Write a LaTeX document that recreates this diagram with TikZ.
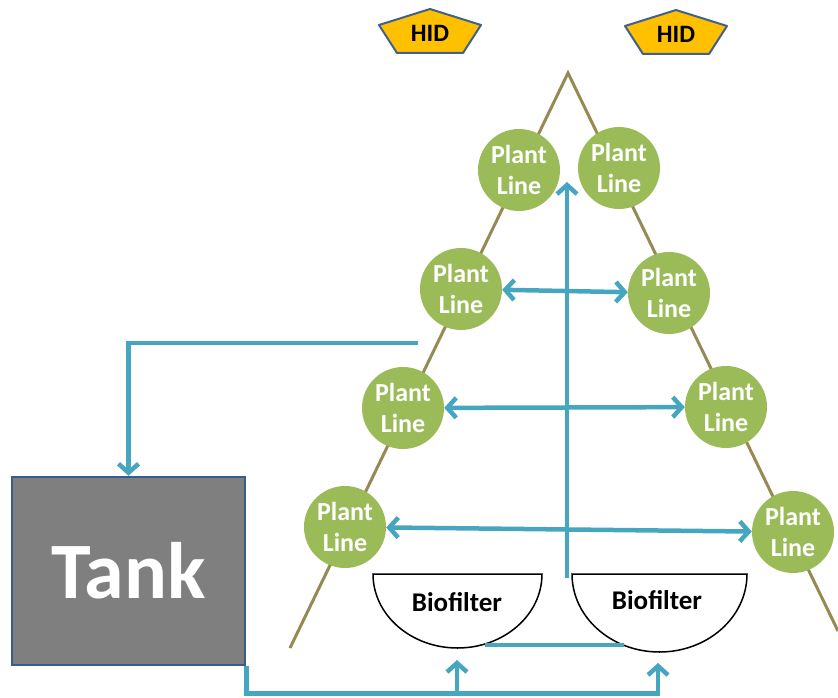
\documentclass[tikz,border=0pt]{standalone}
\usepackage{fontspec}
\setmainfont{Carlito}
\usetikzlibrary{positioning, arrows.meta}
\definecolor{leafgreen}{HTML}{9BBB59}
\definecolor{pipeblue}{HTML}{46A6C0}
\definecolor{frameolive}{HTML}{948A54}
\definecolor{tankgrey}{HTML}{7F7F7F}
\definecolor{tankedge}{HTML}{385D8A}
\definecolor{lampyellow}{HTML}{FFC000}
\definecolor{lampedge}{HTML}{41618C}

\begin{document}
\begin{tikzpicture}
    [
        x=1pt, y=1pt, node distance=119pt and 58pt, on grid,
        >={Straight Barb[length=9pt, width=20pt]},
        plant_node/.style={circle, fill=leafgreen, text=white, minimum size=82pt, inner sep=0pt, align=center, font=\fontsize{26}{31}\selectfont\bfseries},
        tank_node/.style={rectangle, draw=tankedge, fill=tankgrey, line width=2.5pt, text=white, minimum width=233pt, minimum height=188pt, font=\fontsize{80}{84}\selectfont\bfseries},
        filter_text/.style={font=\fontsize{27}{32}\selectfont\bfseries},
        filter_bowl/.style={draw=black, fill=white, line width=1.5pt},
        hid_box/.style={draw=lampedge, fill=lampyellow, line width=2pt, line join=round},
        hid_text/.style={font=\fontsize{25}{30}\selectfont\bfseries},
        frame_line/.style={draw=frameolive, line width=3pt},
        pipe/.style={draw=pipeblue, line width=4.5pt},
    ]
        \useasboundingbox (0,0) rectangle (838,-698);

        \coordinate (apex) at (568,-73);
        \coordinate (legL) at (290,-648);
        \coordinate (legR) at (838,-631);
        \draw[frame_line] (legL) -- (apex) -- (legR);

        \draw[hid_box, shift={(430,-33)}] (0,24) -- (51,8) -- (33,-20) -- (-33,-20) -- (-51,8) -- cycle;
        \node[hid_text] (hidL) at (430,-33) {HID};
        \draw[hid_box, shift={(676,-34)}] (0,24) -- (51,8) -- (33,-20) -- (-33,-20) -- (-51,8) -- cycle;
        \node[hid_text] (hidR) at (676,-34) {HID};

        \node[plant_node] (pl1) at (519,-170) {Plant\\Line};
        \node[plant_node] (pl2) [below left = of pl1] {Plant\\Line};
        \node[plant_node] (pl3) [below left = of pl2] {Plant\\Line};
        \node[plant_node] (pl4) [below left = of pl3] {Plant\\Line};
        \node[plant_node] (pr1) at (619,-168) {Plant\\Line};
        \node[plant_node] (pr2) [below right = 125pt and 50pt of pr1] {Plant\\Line};
        \node[plant_node] (pr3) [below right = 114pt and 57pt of pr2] {Plant\\Line};
        \node[plant_node] (pr4) [below right = 125pt and 67pt of pr3] {Plant\\Line};

        \node[tank_node] (tank) at (128.5,-571) {Tank};

        \draw[filter_bowl] (373,-574) -- (542,-574) arc[start angle=0, end angle=-180, x radius=84.5, y radius=74] -- cycle;
        \node[filter_text] (bfL) at (457,-602) {Biofilter};
        \draw[filter_bowl] (572,-574) -- (747,-574) arc[start angle=0, end angle=-180, x radius=87.5, y radius=78] -- cycle;
        \node[filter_text] (bfR) at (657,-600) {Biofilter};

        \coordinate (bfLrim) at (485,-645);
        \coordinate (bfRrim) at (624,-645);
        \coordinate (bfLin) at (457,-660);
        \coordinate (bfRin) at (658,-663);
        \coordinate (bottomrun) at (0,-692);
        \coordinate (feed) at (418,-343);
        \coordinate (riser) at (567,-578);
        \coordinate (risertop) at (567,-182);

        \draw[pipe] (bfLrim) -- (bfRrim);
        \draw[pipe, ->] (feed) -| (tank);
        \draw[pipe, ->] (tank.south east) -- ++(0,-27) -| (bfRin);
        \draw[pipe, ->] (bfLin |- bottomrun) -- (bfLin);
        \draw[pipe, <->] (pl2) -- (pr2);
        \draw[pipe, <->] (pl3) -- (pr3);
        \draw[pipe, <->] (pl4) -- (pr4);
        \draw[pipe, ->] (riser) -- (risertop);
    \end{tikzpicture}
\end{document}
